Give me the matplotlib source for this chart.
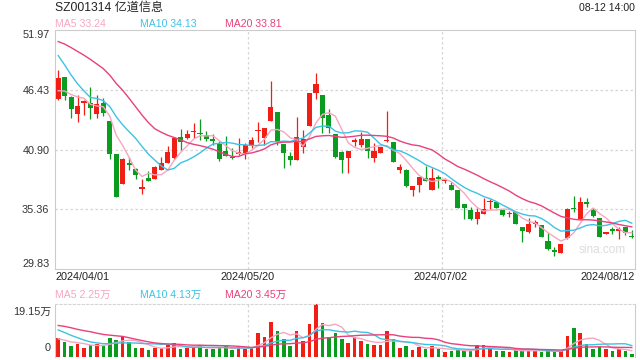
import matplotlib
matplotlib.use('Agg')
import matplotlib.pyplot as plt
import numpy as np
import pandas as pd

plt.rcParams['font.family'] = ['Liberation Sans', 'Noto Sans CJK SC']

title = 'SZ001314 亿道信息'
stamp = '08-12 14:00'
date_labels = ['2024/04/01', '2024/05/20', '2024/07/02', '2024/08/12']
price_ticks = [29.83, 35.36, 40.90, 46.43, 51.97]
vol_top = 19.15
# values shown in the legend rows (last session)
ma_periods = [5, 10, 20]
ma_price_last = [33.24, 34.13, 33.81]
ma_vol_last = [2.25, 4.13, 3.45]

# daily candles, 2024/04/01 .. 2024/08/12
opens = [45.6, 47.6, 45.75, 44.21, 45.2, 45.17, 44.21, 45.2, 43.53, 40.47,
         37.7, 39.67, 39.05, 37.23, 38.25, 38.13, 39.02, 39.61, 40.07, 42.05,
         41.99, 42.48, 42.45, 42.27, 41.76, 41.4, 40.76, 40.14, 40.45, 40.54,
         41.31, 42.57, 42.0, 43.57, 44.37, 41.4, 40.33, 39.95, 41.13, 43.1,
         46.16, 45.94, 44.09, 42.33, 40.65, 40.14, 41.63, 41.32, 41.87, 40.08,
         40.61, 41.65, 41.59, 39.0, 39.0, 37.15, 37.61, 38.23, 37.15, 38.2,
         37.97, 37.58, 37.15, 35.85, 35.3, 34.49, 34.96, 36.0, 36.06, 35.29,
         34.9, 35.08, 33.72, 33.22, 34.03, 33.9, 32.42, 31.46, 31.34, 32.72,
         35.45, 34.49, 35.95, 35.29, 34.6, 33.07, 33.4, 33.35, 33.75, 32.88]
highs = [48.3, 47.6, 45.84, 45.94, 45.47, 46.65, 45.97, 45.7, 43.53, 40.5,
         40.1, 40.16, 39.15, 38.19, 38.9, 39.36, 40.23, 41.2, 42.0, 42.76,
         42.67, 43.4, 43.7, 42.6, 42.33, 41.68, 42.15, 41.0, 41.93, 41.47,
         42.05, 43.47, 42.92, 47.24, 44.4, 41.4, 40.63, 43.87, 42.73, 46.13,
         47.98, 45.94, 44.62, 42.33, 40.76, 40.76, 41.93, 42.49, 41.87, 41.53,
         41.16, 44.46, 41.59, 39.59, 39.06, 37.52, 38.38, 39.4, 39.15, 38.57,
         38.23, 37.89, 37.15, 35.85, 35.54, 35.45, 36.44, 36.3, 36.06, 35.29,
         35.2, 35.08, 33.72, 34.52, 34.37, 33.9, 33.13, 31.9, 32.11, 35.48,
         36.62, 36.53, 36.37, 35.45, 34.6, 33.29, 33.75, 33.75, 33.75, 33.44]
lows = [45.5, 45.5, 43.8, 43.44, 44.12, 43.75, 43.84, 44.0, 40.0, 36.5,
        37.7, 39.0, 38.19, 36.77, 38.0, 38.13, 39.02, 39.61, 40.0, 40.9,
        41.83, 41.99, 41.74, 41.7, 41.28, 39.86, 40.33, 40.02, 40.39, 40.05,
        41.0, 41.62, 41.31, 43.57, 41.31, 39.2, 39.46, 39.95, 40.54, 43.1,
        45.6, 42.39, 42.39, 40.08, 38.72, 38.75, 41.22, 41.16, 40.14, 39.77,
        40.61, 41.6, 39.74, 38.69, 37.46, 36.59, 36.96, 38.01, 37.15, 37.3,
        37.77, 37.15, 35.48, 34.49, 34.37, 34.0, 34.96, 35.4, 35.48, 34.7,
        34.67, 34.03, 32.33, 33.13, 33.75, 32.82, 31.59, 31.03, 31.34, 32.6,
        35.14, 34.49, 35.6, 34.67, 32.8, 33.07, 33.07, 32.58, 33.0, 32.67]
closes = [47.54, 45.84, 44.67, 44.92, 45.25, 44.76, 45.07, 44.3, 40.5, 36.52,
          40.0, 39.49, 38.56, 37.42, 38.0, 39.27, 39.61, 40.66, 41.99, 41.62,
          42.33, 42.64, 42.3, 41.9, 41.7, 40.02, 40.33, 40.1, 40.63, 41.34,
          41.74, 42.62, 42.92, 44.83, 41.68, 40.6, 39.9, 42.05, 41.84, 46.13,
          46.96, 43.78, 42.86, 40.23, 39.97, 40.76, 41.66, 41.87, 40.79, 40.76,
          41.16, 41.7, 39.74, 39.31, 37.52, 37.52, 38.38, 38.01, 38.23, 38.17,
          38.0, 37.15, 35.48, 35.48, 34.43, 35.14, 35.36, 36.05, 35.48, 34.86,
          34.99, 34.03, 33.38, 34.03, 34.07, 32.82, 31.65, 31.43, 32.11, 35.38,
          35.35, 36.03, 35.88, 34.77, 32.82, 33.29, 33.35, 33.4, 33.13, 32.76]
# volume, 万
volumes = [6.9, 5.4, 3.9, 4.6, 3.4, 4.3, 4.6, 3.9, 6.9, 6.2,
           7.7, 5.4, 3.4, 3.1, 2.7, 3.4, 3.2, 4.2, 4.9, 3.0,
           3.1, 3.4, 4.3, 2.8, 3.0, 3.1, 3.8, 2.4, 3.8, 3.0,
           3.1, 8.5, 7.3, 12.8, 9.3, 6.5, 3.8, 9.4, 5.8, 12.0,
           19.15, 12.4, 7.3, 8.5, 6.6, 5.0, 7.3, 5.8, 4.6, 4.2,
           4.3, 9.3, 6.5, 3.4, 3.8, 2.7, 3.5, 3.0, 3.9, 2.8,
           1.9, 2.0, 2.7, 2.3, 2.4, 4.2, 4.3, 3.8, 2.3, 2.0,
           1.9, 2.4, 2.7, 2.3, 2.0, 1.9, 2.4, 1.9, 2.0, 7.7,
           10.4, 8.5, 4.6, 3.0, 3.5, 3.0, 2.3, 2.8, 2.0, 1.2]

# the 19 sessions before 04/01, only used to start the moving averages
prior_closes = [50.5, 51.2, 52.0, 52.3, 52.6, 53.5, 53.0, 52.4, 52.0, 52.5,
                54.5, 54.0, 53.0, 52.0, 50.75, 46.0, 46.3, 46.0, 45.9]
prior_volumes = [12, 14, 16, 13, 12, 15, 13, 12, 11, 12,
                 15, 14, 13, 12, 11, 8, 7, 6, 5]

RED = '#f01e14'
GREEN = '#0a9c1e'
MA_COLORS = {5: '#f7a6c2', 10: '#3cc3e4', 20: '#e8417c'}
GRID = '#d6d6d6'
FRAME = '#cccccc'

n = len(closes)
x = np.arange(n)
o = np.array(opens); c = np.array(closes)
up = c >= o
colors = np.where(up, RED, GREEN)

all_c = pd.Series(prior_closes + closes)
all_v = pd.Series(prior_volumes + volumes)
ma_price = {k: all_c.rolling(k).mean().values[-n:] for k in ma_periods}
ma_vol = {k: all_v.rolling(k).mean().values[-n:] for k in ma_periods}

W, H = 640, 360
fig = plt.figure(figsize=(6.4, 3.6), dpi=100)
fig.patch.set_facecolor('white')


def px(xp, yp):
    return xp / W, 1 - yp / H


ax = fig.add_axes([55 / W, 1 - 269 / H, 580 / W, 239 / H])
ax.set_xlim(-0.5, n - 0.5)
ax.set_ylim(price_ticks[0], price_ticks[-1])
for s in ax.spines.values():
    s.set_color(FRAME)
    s.set_linewidth(0.8)
for t in price_ticks[1:-1]:
    ax.axhline(t, color=GRID, lw=0.9, ls=(0, (2, 2)), zorder=0)
for xv in (n / 3 - 0.5, 2 * n / 3 - 0.5):
    ax.axvline(xv, color=GRID, lw=0.9, ls=(0, (2, 2)), zorder=0)

# candles
ax.vlines(x, lows, highs, colors=colors, lw=0.9, zorder=2)
body = np.maximum(np.abs(c - o), 0.15)
ax.bar(x, body, bottom=np.minimum(o, c), width=0.8, color=colors,
       linewidth=0, zorder=3)
for k in ma_periods:
    ax.plot(x, ma_price[k], color=MA_COLORS[k], lw=1.0, zorder=4)

ax.set_xticks([])
ax.set_yticks(price_ticks)
ax.set_yticklabels(['%.2f' % t for t in price_ticks], fontsize=7.8, color='#333333')
ax.tick_params(axis='y', length=0, pad=4)
labs = ax.get_yticklabels()
labs[0].set_va('bottom')
labs[-1].set_va('top')

fig.text(*px(602, 250), 'sina.com', fontsize=8.5, color='#dcdcdc',
         ha='center', va='center', zorder=5)

# header texts
fig.text(*px(55, 8), title, fontsize=8.7, color='#222222', va='center', ha='left')
fig.text(*px(635, 8), stamp, fontsize=7.6, color='#222222', va='center', ha='right')
ma_x = [55, 140, 225]
for xp, k, pv, vv in zip(ma_x, ma_periods, ma_price_last, ma_vol_last):
    fig.text(*px(xp, 24), 'MA%d %.2f' % (k, pv), fontsize=7.6,
             color=MA_COLORS[k], va='center', ha='left')
    fig.text(*px(xp, 295), 'MA%d %.2f万' % (k, vv), fontsize=7.6,
             color=MA_COLORS[k], va='center', ha='left')

# date labels
date_pos = [55, 248, 441, 635]
date_ha = ['left', 'center', 'center', 'right']
for d, xp, ha in zip(date_labels, date_pos, date_ha):
    fig.text(*px(xp, 277), d, fontsize=7.8, color='#222222', va='center', ha=ha)

# volume panel
av = fig.add_axes([55 / W, 1 - 357 / H, 580 / W, 53 / H])
av.set_xlim(-0.5, n - 0.5)
av.set_ylim(0, vol_top)
av.bar(x, volumes, width=0.55, color=colors, linewidth=0, zorder=2)
for k in ma_periods:
    av.plot(x, ma_vol[k], color=MA_COLORS[k], lw=1.0, zorder=3)
for xv in (n / 3 - 0.5, 2 * n / 3 - 0.5):
    av.axvline(xv, color=GRID, lw=0.9, ls=(0, (2, 2)), zorder=0)
av.spines['top'].set_linestyle((0, (2, 2)))
av.spines['top'].set_color(GRID)
av.spines['bottom'].set_visible(False)
for s in ('left', 'right'):
    av.spines[s].set_color(FRAME)
    av.spines[s].set_linewidth(0.8)
av.set_xticks([])
av.set_yticks([])
fig.text(*px(51, 312), '%.2f万' % vol_top, fontsize=7.8, color='#333333',
         va='center', ha='right')
fig.text(*px(51, 348), '0', fontsize=7.8, color='#333333', va='center', ha='right')

fig.savefig('out.png', dpi=100, facecolor='white')
